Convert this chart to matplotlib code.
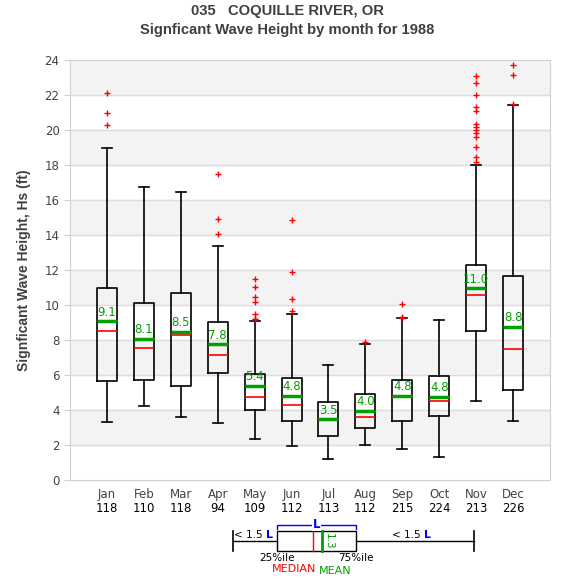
"""
Monthly significant wave height box plot, Coquille River 1988
"""

import matplotlib
matplotlib.use('Agg')
import matplotlib.pyplot as plt

months = ['Jan', 'Feb', 'Mar', 'Apr', 'May', 'Jun',
          'Jul', 'Aug', 'Sep', 'Oct', 'Nov', 'Dec']
counts = [118, 110, 118, 94, 109, 112, 113, 112, 215, 224, 213, 226]

q1 = [5.64, 5.69, 5.35, 6.09, 4.02, 3.35, 2.50, 2.95, 3.35, 3.64, 8.51, 5.12]
q3 = [10.95, 10.10, 10.67, 9.01, 6.04, 5.81, 4.44, 4.90, 5.70, 5.92, 12.27, 11.64]
medians = [8.51, 7.52, 8.27, 7.12, 4.72, 4.27, 3.50, 3.58, 4.74, 4.50, 10.57, 7.47]
means = [9.07, 8.08, 8.46, 7.76, 5.39, 4.82, 3.47, 3.96, 4.80, 4.76, 10.96, 8.76]
whislo = [3.30, 4.23, 3.58, 3.24, 2.32, 1.92, 1.18, 1.98, 1.75, 1.30, 4.50, 3.35]
whishi = [18.95, 16.74, 16.44, 13.35, 9.09, 9.49, 6.55, 7.75, 9.24, 9.12, 17.98, 21.41]
fliers = [
    [22.1, 20.95, 20.27],
    [],
    [],
    [17.47, 14.9, 14.06],
    [11.47, 11.01, 10.48, 10.19, 9.49, 9.22, 9.18],
    [14.84, 11.87, 10.32, 9.64],
    [],
    [7.89],
    [10.04, 9.31, 9.27],
    [],
    [23.09, 22.67, 22.0, 21.31, 21.1, 20.34, 20.19, 20.0, 19.81,
     19.58, 19.01, 18.46, 18.15],
    [23.69, 23.12, 21.5],
]

stats = []
for i in range(len(months)):
    stats.append(dict(med=medians[i], q1=q1[i], q3=q3[i], mean=means[i],
                      whislo=whislo[i], whishi=whishi[i], fliers=fliers[i]))

W, H = 575, 580
fig = plt.figure(figsize=(W / 100, H / 100), dpi=100)
ax = fig.add_axes([70 / W, 1 - 480 / H, 480 / W, 420 / H])

# alternating bands
for y0 in range(2, 24, 4):
    ax.axhspan(y0, y0 + 2, color='#f3f3f3', zorder=0)
for y0 in range(2, 24, 2):
    ax.axhline(y0, color='#dcdcdc', lw=1, zorder=0.5)

pos = list(range(1, 13))
ax.bxp(stats, positions=pos, widths=0.54, showmeans=True, meanline=True,
       boxprops=dict(color='black', lw=1.2),
       whiskerprops=dict(color='black', lw=1.2),
       capprops=dict(color='black', lw=1.2),
       medianprops=dict(color='red', lw=1.2),
       meanprops=dict(color='#00a000', lw=2.5, linestyle='-'),
       flierprops=dict(marker='+', markeredgecolor='red', markersize=5,
                       markeredgewidth=1.0, linestyle='none'))

for p, m in zip(pos, means):
    ax.text(p, m + 0.15, '%.1f' % m, color='#00a000', ha='center',
            va='bottom', fontsize=8.5)

ax.set_xlim(0, 13)
ax.set_ylim(0, 24)
ax.set_yticks(range(0, 25, 2))
ax.set_xticks(pos)
ax.set_xticklabels(months)
ax.tick_params(axis='x', length=0, pad=5.5, labelsize=8.5, labelcolor='#444444')
ax.tick_params(axis='y', length=4, color='#d0d0d0', labelsize=8.5,
               labelcolor='#444444')
for s in ax.spines.values():
    s.set_color('#d0d0d0')

for p, c in zip(pos, counts):
    ax.annotate(str(c), xy=(p, 0), xycoords=('data', 'axes fraction'),
                xytext=(0, -29), textcoords='offset pixels', ha='center',
                va='center', fontsize=8.5, color='black')

ax.set_ylabel('Signficant Wave Height, Hs (ft)', fontsize=10,
              fontweight='bold', color='#404040', labelpad=10,
              family='Liberation Sans')

fig.text(0.5, 1 - 11 / H, '035   COQUILLE RIVER, OR', ha='center', va='center',
         fontsize=10.6, fontweight='bold', color='#404040',
         family='Liberation Sans')
fig.text(0.5, 1 - 30 / H, 'Signficant Wave Height by month for 1988',
         ha='center', va='center', fontsize=10.6, fontweight='bold',
         color='#404040', family='Liberation Sans')

# legend schematic in pixel coordinates
lg = fig.add_axes([0, 0, 1, 1], facecolor='none')
lg.set_xlim(0, W)
lg.set_ylim(H, 0)
lg.axis('off')
lg.plot([233, 277], [541, 541], color='black', lw=1)
lg.plot([356, 474], [541, 541], color='black', lw=1)
lg.plot([233, 233], [531, 551], color='black', lw=1.2)
lg.plot([474, 474], [531, 551], color='black', lw=1.2)
lg.add_patch(plt.Rectangle((277, 531), 79, 20, fill=False, ec='black', lw=1))
lg.plot([313, 313], [531, 551], color='red', lw=1)
lg.plot([321.5, 321.5], [531, 551], color='#00a000', lw=2)
lg.text(329, 541, '1.3', color='#00a000', rotation=270, ha='center',
        va='center', fontsize=7.5)
lg.plot([277, 277, 356, 356], [529, 525, 525, 529], color='blue', lw=1)
lg.text(316.5, 524.5, 'L', color='blue', fontweight='bold', ha='center',
        va='center', fontsize=8.5,
        bbox=dict(fc='white', ec='none', pad=0.3))
lg.text(266, 535, '< 1.5 ', ha='right', va='center', fontsize=7.5)
lg.text(266, 535, 'L', ha='left', va='center', fontsize=8,
        color='blue', fontweight='bold')
lg.text(424, 535, '< 1.5 ', ha='right', va='center', fontsize=7.5)
lg.text(424, 535, 'L', ha='left', va='center', fontsize=8,
        color='blue', fontweight='bold')
lg.text(277, 558, '25%ile', ha='center', va='center', fontsize=7.5)
lg.text(356, 558, '75%ile', ha='center', va='center', fontsize=7.5)
lg.text(294, 569, 'MEDIAN', ha='center', va='center', fontsize=8,
        color='red')
lg.text(335, 571, 'MEAN', ha='center', va='center', fontsize=8,
        color='#00a000')

fig.savefig('out.png', dpi=100)
